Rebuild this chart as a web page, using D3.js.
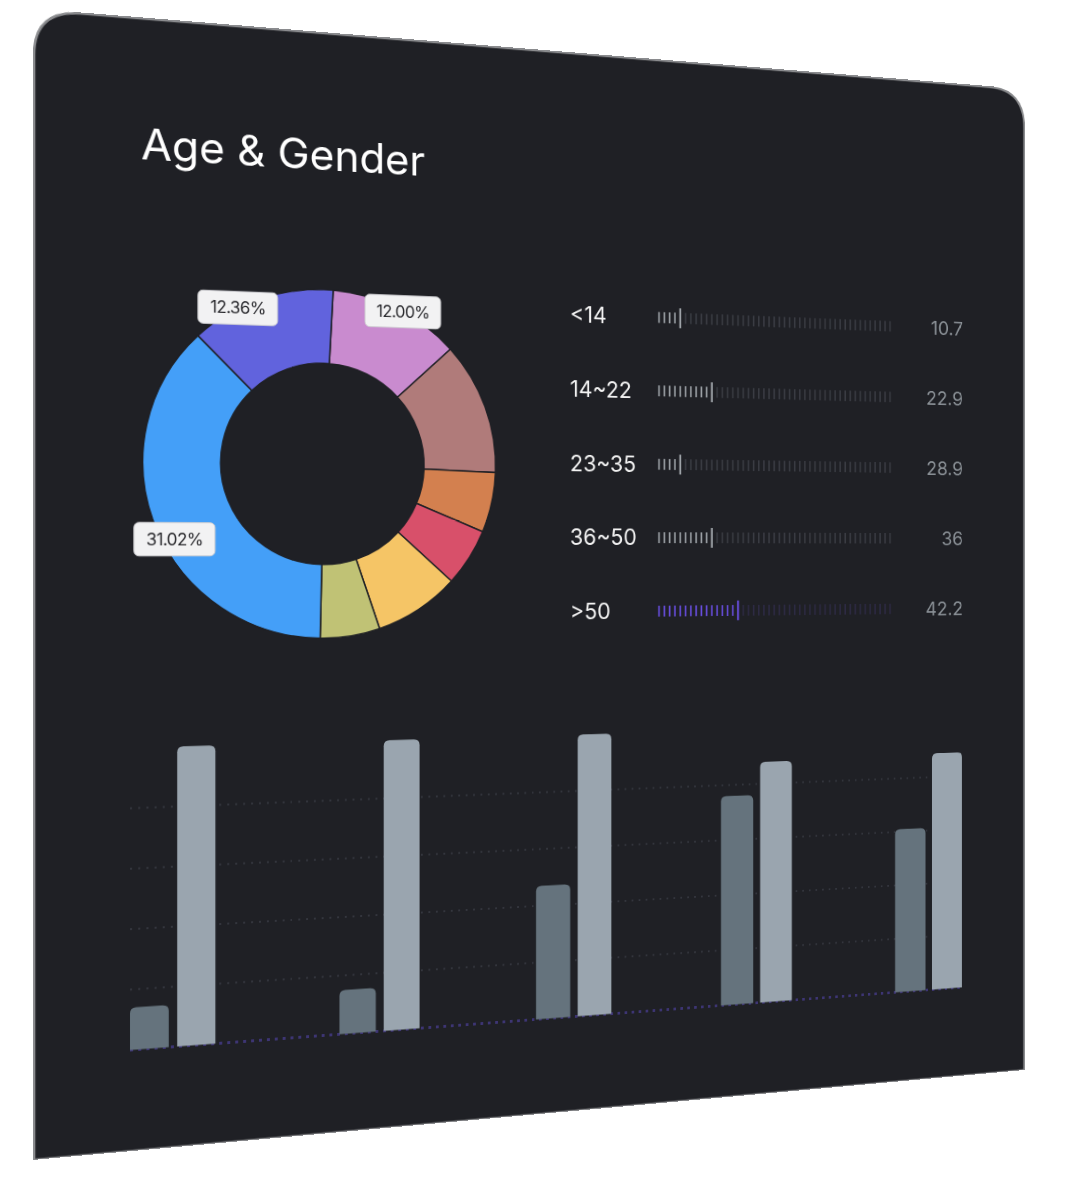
<!DOCTYPE html>
<html><head><meta charset="utf-8">
<script src="https://cdn.jsdelivr.net/npm/d3@7"></script>
<style>
html,body{margin:0;padding:0;background:#fff;width:1080px;height:1182px;overflow:hidden}
#card{position:absolute;left:0;top:0;transform-origin:0 0}
text{font-family:Inter,"Noto Sans",sans-serif}
</style></head><body>
<div id="card"></div>
<script>
// ---------- data ----------
const title = "Age & Gender";
const sliceNames = ["a","b","c","d","e","f","g","h"];
const sliceValues = [12.0, 12.3, 5.6, 5.4, 7.9, 5.4, 36.6, 12.96];
const sliceLabels = ["12.00%", "", "", "", "", "", "31.02%", "12.36%"];
const sliceColors = ["#c98bcf","#b07b7a","#d3804f","#d8506a","#f5c566","#c0c275","#449ff8","#6163dd"];
const ageGroups = ["<14", "14~22", "23~35", "36~50", ">50"];
const ageValues = ["10.7", "22.9", "28.9", "36", "42.2"];
const ageFilledTicks = [4, 10, 4, 10, 15];
const barGroups = ["G1", "G2", "G3", "G4", "G5"];
const seriesDark = [14, 15, 47, 76, 61];
const seriesLight = [100, 100, 100, 88, 89];
const gridTicks = [0, 20, 40, 60, 80];

// ---------- perspective card ----------
const W = 1100, H = 1150;
const quad = [[33, 8.6], [1025, 89], [1025, 1070], [33, 1160]];
function homography(q) {
  const [x0, y0] = q[0], [x1, y1] = q[1], [x2, y2] = q[2], [x3, y3] = q[3];
  const dx1 = x1 - x2, dx2 = x3 - x2, dx3 = x0 - x1 + x2 - x3;
  const dy1 = y1 - y2, dy2 = y3 - y2, dy3 = y0 - y1 + y2 - y3;
  const den = dx1 * dy2 - dx2 * dy1;
  const g = (dx3 * dy2 - dx2 * dy3) / den, h = (dx1 * dy3 - dx3 * dy1) / den;
  const a = x1 - x0 + g * x1, b = x3 - x0 + h * x3, c = x0;
  const d = y1 - y0 + g * y1, e = y3 - y0 + h * y3, f = y0;
  return {a: a / W, b: b / H, c, d: d / W, e: e / H, f, g: g / W, h: h / H};
}
const M = homography(quad);
function inv(X, Y) {
  const A1 = M.a - M.g * X, B1 = M.b - M.h * X, C1 = X - M.c;
  const A2 = M.d - M.g * Y, B2 = M.e - M.h * Y, C2 = Y - M.f;
  const det = A1 * B2 - A2 * B1;
  return [(C1 * B2 - C2 * B1) / det, (A1 * C2 - A2 * C1) / det];
}
const card = document.getElementById("card");
card.style.width = W + "px"; card.style.height = H + "px";
card.style.transform = `matrix3d(${M.a},${M.d},0,${M.g},${M.b},${M.e},0,${M.h},0,0,1,0,${M.c},${M.f},0,1)`;

const svg = d3.select("#card").append("svg").attr("width", W).attr("height", H);
const R = 46;
svg.append("path")
  .attr("d", `M1,${H} L1,${R} Q1,1 ${R},1 L${W - R},1 Q${W - 1},1 ${W - 1},${R} L${W - 1},${H} Z`)
  .attr("fill", "#1f2025").attr("stroke", "#8a8b8e").attr("stroke-width", 2.5);

// title
const tp = inv(141, 159);
svg.append("text").attr("x", tp[0]).attr("y", tp[1]).attr("fill", "#fff")
  .attr("font-size", 44).text(title);

// ---------- donut ----------
const dc = inv(324, 464);
const rOuter = 182, rInner = 105;
const g0 = svg.append("g").attr("transform", `translate(${dc[0]},${dc[1]})`);
const off = 3 * Math.PI / 180;
const pie = d3.pie().sort(null).value(d => d.v).startAngle(off).endAngle(off + 2 * Math.PI);
const pdata = pie(sliceNames.map((n, i) => ({n, v: sliceValues[i], c: sliceColors[i], l: sliceLabels[i]})));
const arc = d3.arc().innerRadius(rInner).outerRadius(rOuter);
g0.selectAll("path.s").data(pdata).join("path").attr("class", "s")
  .attr("d", arc).attr("fill", d => d.data.c).attr("stroke", "#1f2025").attr("stroke-width", 1.5);
const labelShift = {"12.00%": 2, "31.02%": -6, "12.36%": -8};
const lab = g0.selectAll("g.l").data(pdata.filter(d => d.data.l)).join("g").attr("class", "l")
  .attr("transform", d => {
    const a = (d.startAngle + d.endAngle) / 2 + labelShift[d.data.l] * Math.PI / 180;
    const r = d.data.l === "31.02%" ? rOuter - 12 : rOuter;
    return `translate(${Math.sin(a) * r},${-Math.cos(a) * r})`;
  });
lab.append("rect").attr("x", -40).attr("y", -17).attr("width", 80).attr("height", 34).attr("rx", 5)
  .attr("fill", "#f2f2f3").attr("stroke", "#cfcfd2").attr("stroke-width", 1);
lab.append("text").attr("text-anchor", "middle").attr("dy", "0.36em").attr("font-size", 17)
  .attr("fill", "#2a2a2e").attr("letter-spacing", -0.6).text(d => d.data.l);

// ---------- age list ----------
const r0 = inv(570, 314), r4 = inv(570, 612);
const rowY = d3.scalePoint().domain(ageGroups).range([r0[1], r4[1]]);
const tk0 = inv(659, 318)[0], tk1 = inv(890, 322)[0];
const nTicks = 46;
const tickX = d3.scaleLinear().domain([0, nTicks - 1]).range([tk0, tk1]);
const valX = inv(963, 330)[0];
const rows = svg.selectAll("g.row").data(ageGroups).join("g").attr("class", "row")
  .attr("transform", d => `translate(0,${rowY(d)})`);
rows.append("text").attr("x", r0[0]).attr("dy", "0.35em").attr("font-size", 24).attr("fill", "#f2f2f2").text(d => d);
rows.append("text").attr("x", valX).attr("dy", "0.35em").attr("text-anchor", "end").attr("font-size", 22)
  .attr("fill", "#8a9096").text((d, i) => ageValues[i]);
rows.each(function (d, i) {
  const last = i === ageGroups.length - 1;
  const ticks = d3.range(nTicks);
  d3.select(this).selectAll("line").data(ticks).join("line")
    .attr("x1", t => tickX(t)).attr("x2", t => tickX(t))
    .attr("y1", t => t === ageFilledTicks[i] ? -11 : -6).attr("y2", t => t === ageFilledTicks[i] ? 11 : 6)
    .attr("stroke-width", t => t === ageFilledTicks[i] ? 2.2 : 1.8)
    .attr("stroke", t => t <= ageFilledTicks[i] ? (last ? "#6a4fe4" : "#9ea3a8") : (last ? "#2d2a44" : "#3a3c43"));
});

// ---------- bars ----------
const bl = inv(130, 1050), br = inv(962, 993), bt = inv(195, 746);
const x0 = d3.scaleBand().domain(barGroups).range([bl[0], br[0]]).paddingInner(0.6).paddingOuter(0);
const x1 = d3.scaleBand().domain(["dark", "light"]).range([0, x0.bandwidth()]).paddingInner(0.18);
const y = d3.scaleLinear().domain([0, 100]).range([bl[1], bt[1]]);
svg.append("g").selectAll("line").data(gridTicks).join("line")
  .attr("x1", bl[0]).attr("x2", br[0]).attr("y1", d => y(d)).attr("y2", d => y(d))
  .attr("stroke", d => d === 0 ? "#3d3574" : "#34363e").attr("stroke-width", d => d === 0 ? 3 : 2)
  .attr("stroke-dasharray", d => d === 0 ? "3 5" : "2 6");
function topRounded(x, yTop, w, yBase, r) {
  return `M${x},${yBase} L${x},${yTop + r} Q${x},${yTop} ${x + r},${yTop} L${x + w - r},${yTop} Q${x + w},${yTop} ${x + w},${yTop + r} L${x + w},${yBase} Z`;
}
const bg = svg.append("g").selectAll("g").data(barGroups).join("g")
  .attr("transform", d => `translate(${x0(d)},0)`);
bg.append("path").attr("fill", "#65737d")
  .attr("d", (d, i) => topRounded(x1("dark"), y(seriesDark[i]), x1.bandwidth(), y(0), 6));
bg.append("path").attr("fill", "#9aa5af")
  .attr("d", (d, i) => topRounded(x1("light"), y(seriesLight[i]), x1.bandwidth(), y(0), 6));
</script>
</body></html>
